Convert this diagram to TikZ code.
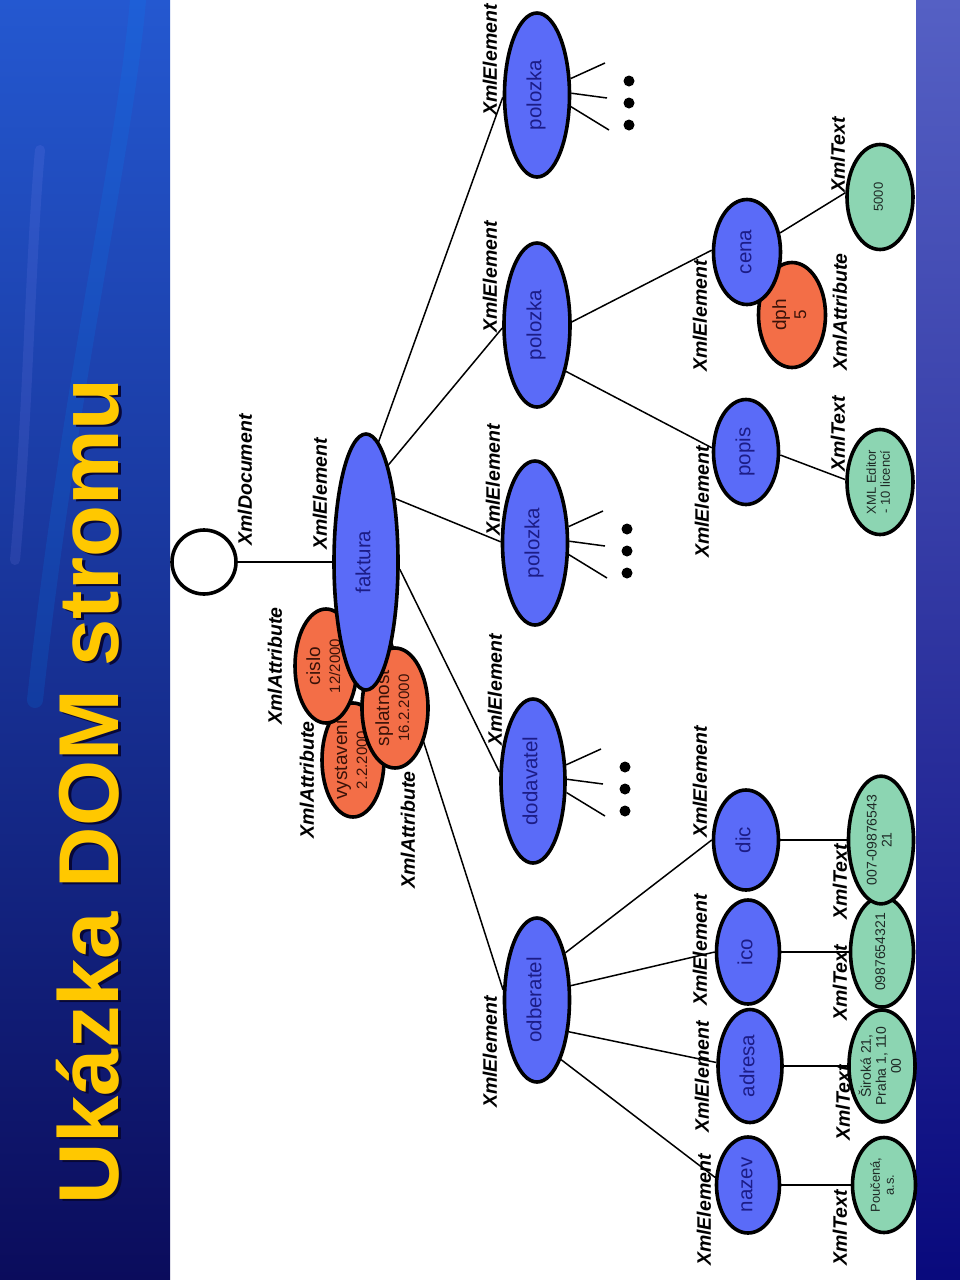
\documentclass[tikz,border=0pt]{standalone}
\usepackage{graphicx}
\usepackage{fontspec}
\setmainfont{Liberation Sans}
\usetikzlibrary{calc,shapes.geometric}

\pgfdeclarelayer{back}
\pgfdeclarelayer{edges}
\pgfsetlayers{back,edges,main}

\definecolor{elblue}{HTML}{5A6BF8}
\definecolor{elink}{HTML}{1C1C86}
\definecolor{atorange}{HTML}{F36E47}
\definecolor{atink}{HTML}{3A1208}
\definecolor{txgreen}{HTML}{8CD5B2}
\definecolor{txink}{HTML}{1E2A26}
\definecolor{titlegold}{HTML}{FFC800}
\definecolor{stripdark}{HTML}{0B0C5C}
\definecolor{stripmid}{HTML}{1535A8}
\definecolor{striplight}{HTML}{2458D0}
\definecolor{rightlight}{HTML}{5560C4}
\definecolor{rightmid}{HTML}{2F3FB2}

% text of a node, turned like the whole slide
\newcommand{\vlines}[1]{\rotatebox{90}{\begin{tabular}{@{}c@{}}#1\end{tabular}}}
% three stubs and three dots beside a node
\newcommand{\dotfan}[1]{%
  \foreach \a/\dx/\dy in {26/68/-32,3/70/3,-19/72/35}
    \draw[edge] (#1.\a) -- ($(#1.center)+(\dx,\dy)$);
  \foreach \dy in {-14,8,30}
    \fill ($(#1.center)+(92,\dy)$) circle (5.5);
}

\begin{document}
\begin{tikzpicture}[x=1pt,y=-1pt,
    edge/.style={line width=1.5pt},
    elem/.style={ellipse,draw,line width=3.6pt,fill=elblue,text=elink,inner sep=0pt,
      font=\fontsize{20.5}{22}\selectfont},
    attr/.style={elem,fill=atorange,text=atink,font=\fontsize{19}{20}\selectfont},
    txt/.style={elem,fill=txgreen,text=txink,font=\fontsize{14}{15}\selectfont},
    kind/.style={rotate=90,inner sep=0pt,font=\fontsize{19.5}{20}\selectfont\bfseries\itshape}]

    \useasboundingbox (0,0) rectangle (960,1280);

    % background of the slide
    \begin{pgfonlayer}{back}
        \fill[white] (0,0) rectangle (960,1280);
        \shade[top color=striplight,middle color=stripmid,bottom color=stripdark] (0,0) rectangle (170,1280);
        \draw[line width=16pt,line cap=round,color=blue!45!cyan,opacity=.15]
            (138,0) .. controls (125,150) and (70,380) .. (35,700);
        \draw[line width=10pt,line cap=round,color=blue!40!white,opacity=.12]
            (40,150) .. controls (30,260) and (28,420) .. (15,560);
        \shade[top color=rightlight,middle color=rightmid,bottom color=stripdark!80!blue]
            (916,0) rectangle (960,1280);
    \end{pgfonlayer}

    % title
    \node[rotate=90,anchor=base west,inner sep=0pt,text=stripdark!60!black,
        font=\fontsize{85}{90}\selectfont\bfseries] (titleshade) at (121,1207) {Ukázka DOM stromu};
    \node[rotate=90,anchor=base west,inner sep=0pt,text=titlegold,
        font=\fontsize{85}{90}\selectfont\bfseries] (title) at (118,1205) {Ukázka DOM stromu};

    % document and root element
    \node[circle,draw,line width=3.6pt,fill=white,minimum size=64pt,inner sep=0pt] (doc) at (204,562) {};
    \node[attr,minimum width=62pt,minimum height=114pt] (vystaveni) at (353,760)
        {\vlines{vystaveni\\\fontsize{15}{16}\selectfont 2.2.2000}};
    \node[attr,minimum width=62pt,minimum height=114pt] (cislo) at (326,666)
        {\vlines{cislo\\\fontsize{15}{16}\selectfont 12/2000}};
    \node[attr,minimum width=66pt,minimum height=120pt] (splatnost) at (395,708)
        {\vlines{splatnost\\\fontsize{15}{16}\selectfont 16.2.2000}};
    \node[elem,minimum width=64pt,minimum height=256pt] (faktura) at (366,562) {\vlines{faktura}};

    % second level
    \node[elem,minimum width=65pt,minimum height=164pt] (odberatel) at (537,1000) {\vlines{odberatel}};
    \node[elem,minimum width=64pt,minimum height=164pt] (dodavatel) at (533,781) {\vlines{dodavatel}};
    \node[elem,minimum width=65pt,minimum height=164pt] (polozkaA) at (535,543) {\vlines{polozka}};
    \node[elem,minimum width=66pt,minimum height=164pt] (polozkaB) at (537,325) {\vlines{polozka}};
    \node[elem,minimum width=65pt,minimum height=164pt] (polozkaC) at (537,95) {\vlines{polozka}};

    % children of odberatel
    \node[elem,minimum width=63pt,minimum height=96pt] (nazev) at (748,1185) {\vlines{nazev}};
    \node[elem,minimum width=64pt,minimum height=113pt] (adresa) at (750,1066) {\vlines{adresa}};
    \node[elem,minimum width=63pt,minimum height=104pt] (ico) at (748,952) {\vlines{ico}};
    \node[elem,minimum width=65pt,minimum height=100pt] (dic) at (746,840) {\vlines{dic}};
    \node[txt,minimum width=63pt,minimum height=95pt,font=\fontsize{13}{14}\selectfont] (tnazev) at (884,1185)
        {\vlines{Poučená,\\a.s.}};
    \node[txt,minimum width=63pt,minimum height=110pt] (tadresa) at (882,1066)
        {\vlines{Široká 21,\\Praha 1, 110\\00}};
    \node[txt,minimum width=63pt,minimum height=110pt] (tico) at (882,952) {\vlines{0987654321}};
    \node[txt,minimum width=65pt,minimum height=104pt] (tdic) at (881,840) {\vlines{007-09876543\\21}};

    % children of the second polozka
    \node[elem,minimum width=65pt,minimum height=105pt] (popis) at (746,452) {\vlines{popis}};
    \node[attr,minimum width=67pt,minimum height=105pt] (dph) at (792,315)
        {\vlines{dph\\\fontsize{17}{18}\selectfont 5}};
    \node[elem,minimum width=67pt,minimum height=105pt] (cena) at (747,252) {\vlines{cena}};
    \node[txt,minimum width=66pt,minimum height=105pt,font=\fontsize{13}{14}\selectfont] (tpopis) at (880,482)
        {\vlines{XML Editor\\- 10 licencí}};
    \node[txt,minimum width=66pt,minimum height=105pt,font=\fontsize{13}{14}\selectfont] (tcena) at (880,197)
        {\vlines{5000}};

    % connectors
    \begin{pgfonlayer}{edges}
        \draw[edge] (doc) -- (faktura);
        \draw[edge] (faktura.84) -- (polozkaC.184);
        \draw[edge] (faktura.77) -- (polozkaB.185);
        \draw[edge] (faktura.65) -- (polozkaA.178);
        \draw[edge] (faktura.-12) -- (dodavatel.165);
        \draw[edge] (faktura.center) -- (odberatel.163);

        \draw[edge] (odberatel.59) -- (dic.180);
        \draw[edge] (odberatel.23) -- (ico.180);
        \draw[edge] (odberatel.-45) -- (adresa.174);
        \draw[edge] (odberatel.-68) -- (nazev.167);
        \draw[edge] (nazev) -- (tnazev);
        \draw[edge] (adresa) -- (tadresa);
        \draw[edge] (ico) -- (tico);
        \draw[edge] (dic) -- (tdic);

        \draw[edge] (polozkaB.5) -- (cena.177);
        \draw[edge] (polozkaB.-58) -- (popis.173);
        \draw[edge] (popis.-5) -- (tpopis.176);
        \draw[edge] (cena.30) -- (tcena.173);

        \dotfan{dodavatel}
        \dotfan{polozkaA}
        \dotfan{polozkaC}
    \end{pgfonlayer}

    % node kinds
    \node[kind] (kdoc) at (245,480) {XmlDocument};
    \node[kind] (kfaktura) at (320,494) {XmlElement};
    \node[kind] (kcislo) at (275,666) {XmlAttribute};
    \node[kind] (kvystaveni) at (307,780) {XmlAttribute};
    \node[kind] (ksplatnost) at (408,830) {XmlAttribute};
    \node[kind] (kodberatel) at (490,1052) {XmlElement};
    \node[kind] (kdodavatel) at (495,690) {XmlElement};
    \node[kind] (kpolozkaA) at (493,480) {XmlElement};
    \node[kind] (kpolozkaB) at (490,277) {XmlElement};
    \node[kind] (kpolozkaC) at (490,60) {XmlElement};
    \node[kind] (knazev) at (704,1210) {XmlElement};
    \node[kind] (kadresa) at (702,1077) {XmlElement};
    \node[kind] (kico) at (700,950) {XmlElement};
    \node[kind] (kdic) at (700,782) {XmlElement};
    \node[kind] (ktnazev) at (840,1228) {XmlText};
    \node[kind] (ktadresa) at (843,1103) {XmlText};
    \node[kind] (ktico) at (840,983) {XmlText};
    \node[kind] (ktdic) at (840,882) {XmlText};
    \node[kind] (kpopis) at (702,502) {XmlElement};
    \node[kind] (kcena) at (700,316) {XmlElement};
    \node[kind] (kdph) at (840,312) {XmlAttribute};
    \node[kind] (ktpopis) at (838,434) {XmlText};
    \node[kind] (ktcena) at (838,155) {XmlText};
\end{tikzpicture}
\end{document}
